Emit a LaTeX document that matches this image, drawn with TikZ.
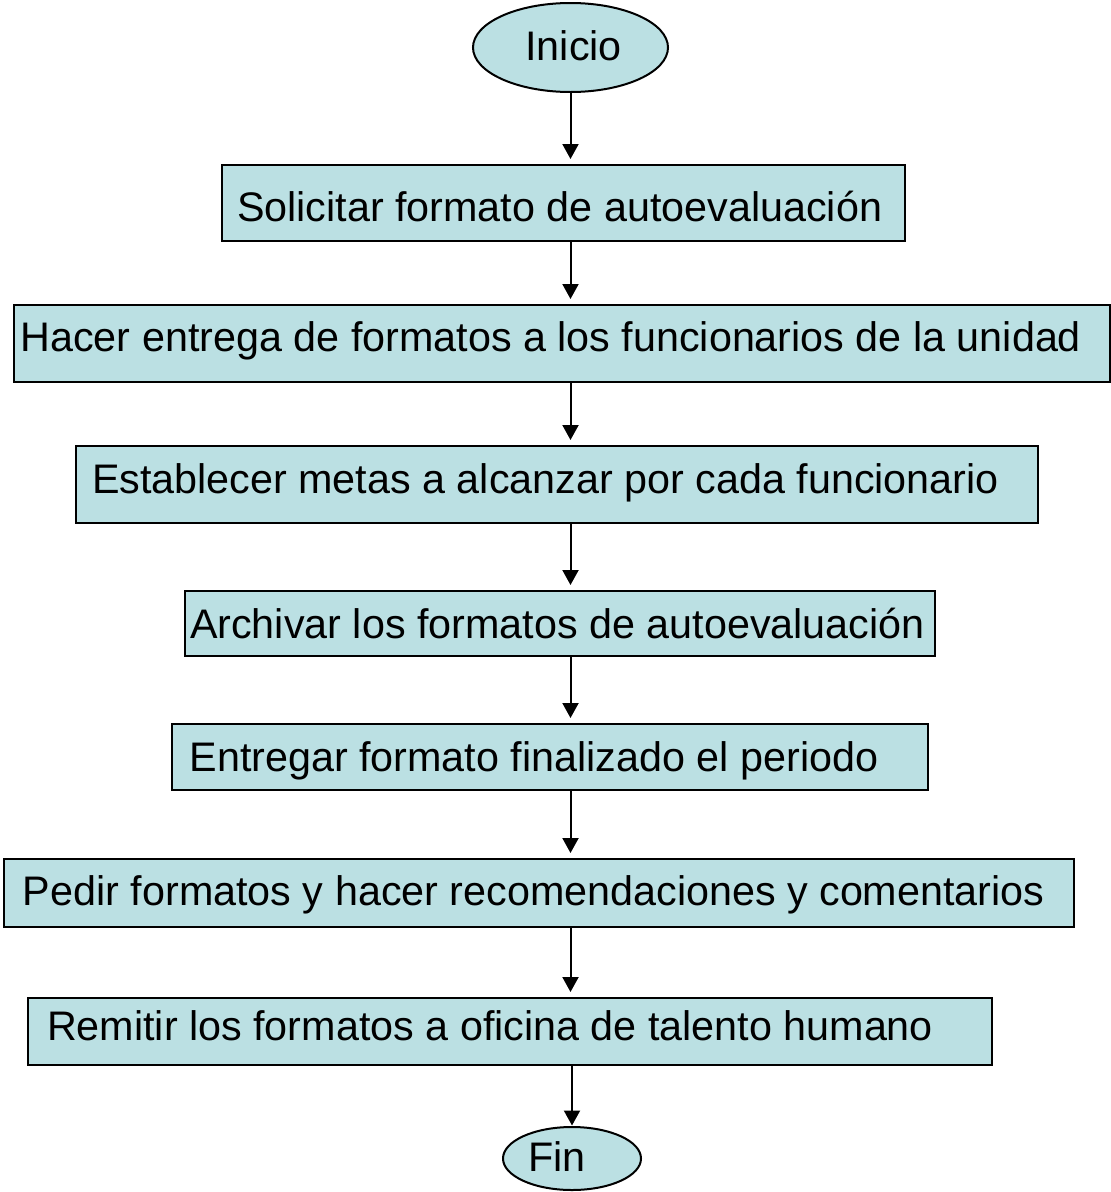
\documentclass[tikz,border=0pt]{standalone}
\usepackage{fontspec}
\setmainfont{Liberation Sans}
\usetikzlibrary{positioning, calc}
\usetikzlibrary{arrows.meta}
\usetikzlibrary{shapes,arrows}
\definecolor{stepfill}{HTML}{BBE0E3}

\begin{document}
\begin{tikzpicture}[x=1pt,y=-1pt,line width=2pt,draw=black!100]
	\tikzstyle{t-node}=[ellipse,draw,fill=stepfill,inner sep=0pt]
	\tikzstyle{s-node}=[rectangle,draw,fill=stepfill,inner sep=0pt]
	\tikzstyle{words}=[anchor=base west,inner sep=0pt,font=\fontsize{41.3}{48}\selectfont]
	\tikzstyle{flow}=[draw,-{Triangle[length=15pt,width=16pt]},shorten >=5pt]
	\tikzstyle{flow-end}=[draw,-{Triangle[length=15pt,width=16pt]},shorten >=0.5pt]
	\useasboundingbox (0,0) rectangle (1111,1192);

	% start and end
	\node[t-node,minimum width=195,minimum height=89] (ini) at (570.5,47.5) {};
	\node[t-node,minimum width=138,minimum height=63] (fin) at (572,1158.5) {};
	\node[words] (ini-t) at (524.5,60) {Inicio};
	\node[words] (fin-t) at (527,1171.7) {Fin};

	% boxes
	\node[s-node,minimum width=683,minimum height=76] (s1) at (563.5,203) {};
	\node[s-node,minimum width=1096,minimum height=77] (s2) at (562,343.5) {};
	\node[s-node,minimum width=962,minimum height=77] (s3) at (557,484.5) {};
	\node[s-node,minimum width=750,minimum height=65] (s4) at (560,623.5) {};
	\node[s-node,minimum width=756,minimum height=66] (s5) at (550,757) {};
	\node[s-node,minimum width=1070,minimum height=68] (s6) at (539,893) {};
	\node[s-node,minimum width=964,minimum height=67] (s7) at (510,1031.5) {};

	% box texts
	\node[words] (s1-t) at (236,221.7) {Solicitar formato de autoevaluación};
	\node[words] (s2-t) at (19.5,351.7) {Hacer entrega de formatos a los funcionarios de la unidad};
	\node[words] (s3-t) at (91,493.3) {Establecer metas a alcanzar por cada funcionario};
	\node[words] (s4-t) at (189,638.3) {Archivar los formatos de autoevaluación};
	\node[words] (s5-t) at (188.5,771.7) {Entregar formato finalizado el periodo};
	\node[words] (s6-t) at (22,905) {Pedir formatos y hacer recomendaciones y comentarios};
	\node[words] (s7-t) at (46,1040) {Remitir los formatos a oficina de talento humano};

	\path
		(ini.south)	edge[flow]	(ini.south |- s1.north)
		(s1.south -| ini)	edge[flow]	(ini |- s2.north)
		(s2.south -| ini)	edge[flow]	(ini |- s3.north)
		(s3.south -| ini)	edge[flow]	(ini |- s4.north)
		(s4.south -| ini)	edge[flow]	(ini |- s5.north)
		(s5.south -| ini)	edge[flow]	(ini |- s6.north)
		(s6.south -| ini)	edge[flow]	(ini |- s7.north)
		(s7.south -| fin)	edge[flow-end]	(fin.north);
\end{tikzpicture}
\end{document}
